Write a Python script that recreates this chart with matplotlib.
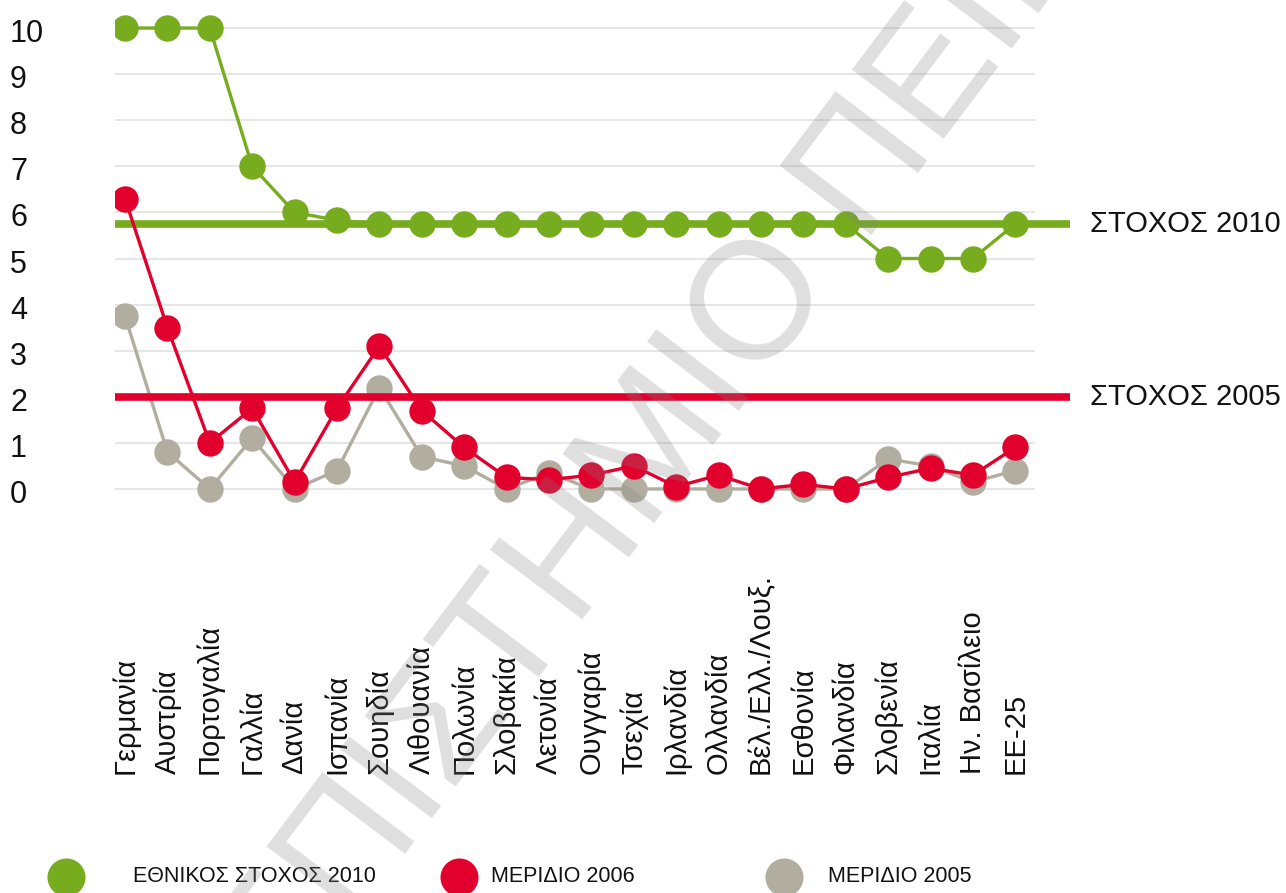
import matplotlib.pyplot as plt
from matplotlib.transforms import blended_transform_factory

countries = [
    'Γερμανία', 'Αυστρία', 'Πορτογαλία', 'Γαλλία', 'Δανία', 'Ισπανία',
    'Σουηδία', 'Λιθουανία', 'Πολωνία', 'Σλοβακία', 'Λετονία', 'Ουγγαρία',
    'Τσεχία', 'Ιρλανδία', 'Ολλανδία', 'Βέλ./Ελλ./Λουξ.', 'Εσθονία',
    'Φιλανδία', 'Σλοβενία', 'Ιταλία', 'Ην. Βασίλειο', 'ΕΕ-25',
]
national_target_2010 = [
    10, 10, 10, 7, 6, 5.83, 5.75, 5.75, 5.75, 5.75, 5.75,
    5.75, 5.75, 5.75, 5.75, 5.75, 5.75, 5.75, 5, 5, 5, 5.75,
]
share_2006 = [
    6.3, 3.5, 1.0, 1.75, 0.15, 1.75, 3.1, 1.7, 0.9, 0.25, 0.2,
    0.3, 0.5, 0.05, 0.3, 0.0, 0.1, 0.0, 0.25, 0.45, 0.3, 0.9,
]
share_2005 = [
    3.75, 0.8, 0.0, 1.1, 0.0, 0.4, 2.2, 0.7, 0.5, 0.0, 0.35,
    0.0, 0.0, 0.0, 0.0, 0.0, 0.0, 0.0, 0.65, 0.5, 0.15, 0.4,
]
targets = [('ΣΤΟΧΟΣ 2010', 5.75), ('ΣΤΟΧΟΣ 2005', 2.0)]
y_ticks = list(range(0, 11))
legend_labels = ['ΕΘΝΙΚΟΣ ΣΤΟΧΟΣ 2010', 'ΜΕΡΙΔΙΟ 2006', 'ΜΕΡΙΔΙΟ 2005']

GREEN = '#76ac1e'
RED = '#e2002d'
GREY = '#b2ae9f'
GRID = '#e6e6e6'

plt.rcParams['font.family'] = ['Liberation Sans', 'DejaVu Sans']

W, H = 1286, 893
fig = plt.figure(figsize=(W / 100, H / 100), dpi=100)
ax = fig.add_axes([115 / W, 1 - 507.4 / H, (1070 - 115) / W, (507.4 - 9.6) / H])
ax.set_xlim(-0.236, 22.29)
ax.set_ylim(-0.4, 10.4)
for spine in ax.spines.values():
    spine.set_visible(False)
ax.set_xticks([])
ax.set_yticks([])

x = list(range(len(countries)))

# light horizontal grid, stops short of the target lines
ax.hlines(y_ticks, -0.236, 21.46, color=GRID, lw=1.4, zorder=0)

ax.plot(x, share_2005, '-o', color=GREY, lw=2.4, ms=18, zorder=2)
colors = {'ΣΤΟΧΟΣ 2010': GREEN, 'ΣΤΟΧΟΣ 2005': RED}
for name, val in targets:
    ax.hlines(val, -0.236, 22.29, color=colors[name], lw=5.5, zorder=3)
    ax.annotate(name, xy=(1090 / W, val), xycoords=('figure fraction', 'data'),
                ha='left', va='center', fontsize=21, color='#111111')
ax.plot(x, share_2006, '-o', color=RED, lw=2.4, ms=18, zorder=4)
ax.plot(x, national_target_2010, '-o', color=GREEN, lw=2.4, ms=18, zorder=5)

# y labels sit at the left edge, a little below each grid line
for v in y_ticks:
    ax.annotate(str(v), xy=(10 / W, v), xycoords=('figure fraction', 'data'),
                xytext=(0, -6), textcoords='offset pixels',
                ha='left', va='center', fontsize=22, color='#111111')

# country names, vertical, bottom-aligned
trans = blended_transform_factory(ax.transData, fig.transFigure)
for i, name in enumerate(countries):
    ax.text(i, 1 - 774 / H, name, rotation=90, ha='center', va='bottom',
            fontsize=21, color='#111111', transform=trans)

# overlay in pixel units for the legend and the watermark
over = fig.add_axes([0, 0, 1, 1], zorder=10)
over.set_xlim(0, W)
over.set_ylim(H, 0)
over.axis('off')
over.patch.set_visible(False)

legend_colors = [GREEN, RED, GREY]
legend_x = [66, 459, 784]
text_x = [133, 491, 828]
for lbl, c, cx, tx in zip(legend_labels, legend_colors, legend_x, text_x):
    over.scatter([cx], [877], s=750, color=c, linewidths=0)
    over.text(tx, 877, lbl, ha='left', va='center', fontsize=15.5,
              color='#111111')

over.text(663, 441, 'ΠΑΝΕΠΙΣΤΗΜΙΟ ΠΕΙΡΑΙΩΣ', rotation=53, rotation_mode='anchor',
          ha='center', va='center', fontsize=120, color='#808080', alpha=0.25)

fig.savefig('out.png', dpi=100)
